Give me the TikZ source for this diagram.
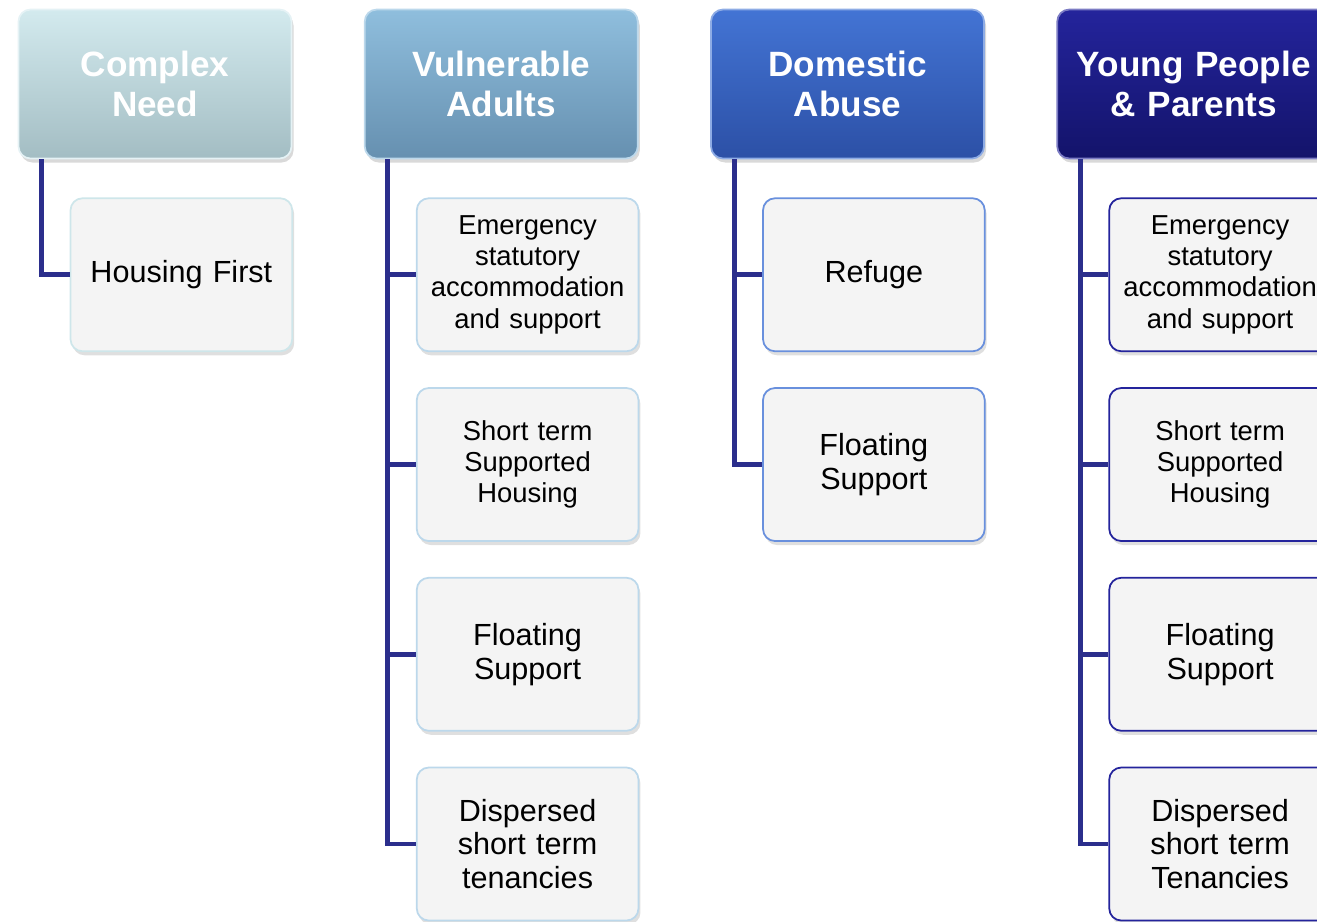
\documentclass[tikz,border=0pt]{standalone}
\usepackage{fontspec}
\setmainfont{Liberation Sans}
\usetikzlibrary{positioning, shadows}

\definecolor{cnTop}{HTML}{D3EAEE}
\definecolor{cnBot}{HTML}{A3BDC3}
\definecolor{vaTop}{HTML}{8FBEDD}
\definecolor{vaBot}{HTML}{6690B0}
\definecolor{daTop}{HTML}{4374D4}
\definecolor{daBot}{HTML}{2C50A6}
\definecolor{ypTop}{HTML}{24249C}
\definecolor{ypBot}{HTML}{13136A}
\definecolor{linkBlue}{HTML}{2B2E8C}
\definecolor{leafFill}{HTML}{F4F4F4}

\begin{document}
\begin{tikzpicture}[
    head/.style={rectangle, rounded corners=0.24cm, minimum width=5.46cm,
      minimum height=2.98cm, text width=5.2cm, align=center, text=white,
      font=\bfseries\fontsize{20}{22.7}\selectfont, line width=1pt,
      drop shadow={opacity=0.3, shadow xshift=0.04cm, shadow yshift=-0.08cm}},
    leaf/.style={rectangle, rounded corners=0.24cm, minimum width=4.42cm,
      minimum height=3.06cm, text width=4.2cm, align=center, fill=leafFill,
      line width=1pt, font=\fontsize{17.4}{19.3}\selectfont,
      drop shadow={opacity=0.25, shadow xshift=0.04cm, shadow yshift=-0.08cm}},
    small/.style={font=\fontsize{15.6}{17.8}\selectfont},
    link/.style={draw=linkBlue, line width=2.8pt}
  ]

  \clip (0,0) rectangle (26.34,-18.44);

  % headers
  \node [head, top color=cnTop, bottom color=cnBot, draw=cnTop!60!white] (cn) at (3.10,-1.68)
  {Complex\\Need};
  \node [head, top color=vaTop, bottom color=vaBot, draw=vaTop!60!white] (va) [right = 1.43cm of cn]
  {Vulnerable\\Adults};
  \node [head, top color=daTop, bottom color=daBot, draw=daTop!60!white] (da) [right = 1.43cm of va]
  {Domestic\\Abuse};
  \node [head, top color=ypTop, bottom color=ypBot, draw=ypTop!60!white] (yp) [right = 1.43cm of da]
  {Young People\\\& Parents};

  % Complex Need
  \node [leaf, draw=cnTop!90!cnBot] (cnA) [below right = 0.76cm and 1.04cm of cn.south west]
  {Housing First};

  % Vulnerable Adults
  \node [leaf, small, draw=vaTop!60!white] (vaA) [below right = 0.76cm and 1.04cm of va.south west]
  {Emergency\\statutory\\accommodation\\and support};
  \node [leaf, small, draw=vaTop!60!white] (vaB) [below = 0.70cm of vaA]
  {Short term\\Supported\\Housing};
  \node [leaf, draw=vaTop!60!white] (vaC) [below = 0.70cm of vaB]
  {Floating\\Support};
  \node [leaf, draw=vaTop!60!white] (vaD) [below = 0.70cm of vaC]
  {Dispersed\\short term\\tenancies};

  % Domestic Abuse
  \node [leaf, draw=daTop!80!white] (daA) [below right = 0.76cm and 1.04cm of da.south west]
  {Refuge};
  \node [leaf, draw=daTop!80!white] (daB) [below = 0.70cm of daA]
  {Floating\\Support};

  % Young People & Parents
  \node [leaf, small, draw=ypTop] (ypA) [below right = 0.76cm and 1.04cm of yp.south west]
  {Emergency\\statutory\\accommodation\\and support};
  \node [leaf, small, draw=ypTop] (ypB) [below = 0.70cm of ypA]
  {Short term\\Supported\\Housing};
  \node [leaf, draw=ypTop] (ypC) [below = 0.70cm of ypB]
  {Floating\\Support};
  \node [leaf, draw=ypTop] (ypD) [below = 0.70cm of ypC]
  {Dispersed\\short term\\Tenancies};

  % edges
  \draw [link] ([xshift=0.48cm]cn.south west) |- (cnA.west);
  \foreach \k in {A,B,C,D}
    \draw [link] ([xshift=0.48cm]va.south west) |- (va\k.west);
  \foreach \k in {A,B}
    \draw [link] ([xshift=0.48cm]da.south west) |- (da\k.west);
  \foreach \k in {A,B,C,D}
    \draw [link] ([xshift=0.48cm]yp.south west) |- (yp\k.west);
\end{tikzpicture}
\end{document}
